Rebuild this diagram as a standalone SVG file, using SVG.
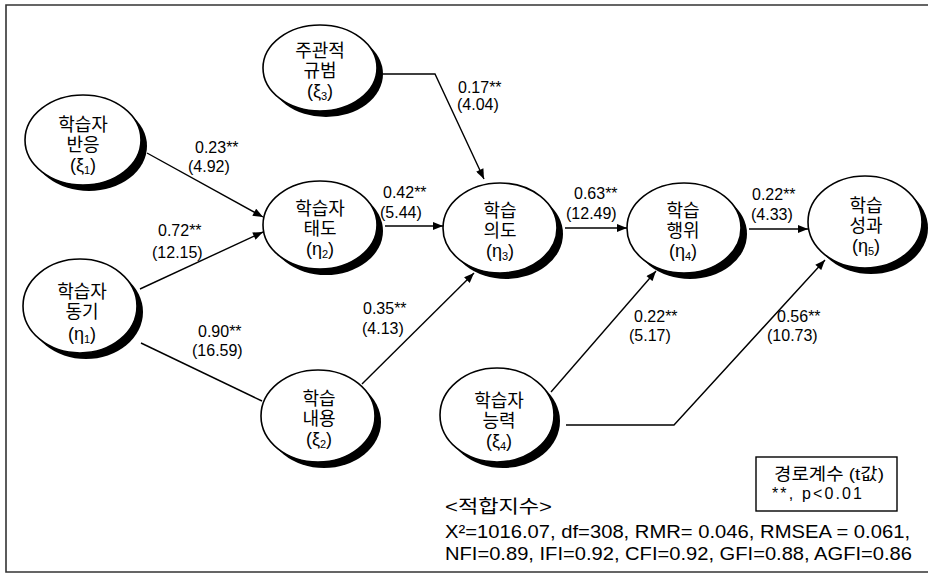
<svg xmlns="http://www.w3.org/2000/svg" width="928" height="575" viewBox="0 0 928 575">
<defs>
<style>
text{font-family:"Liberation Sans","Noto Sans CJK KR",sans-serif;fill:#000}
.nt{font-size:18px;text-anchor:middle}
.lb{font-size:16px}
.sh{fill:#000}
.nd{fill:#fff;stroke:#000;stroke-width:1.6}
.cn{fill:none;stroke:#000;stroke-width:1.4}
.ar{marker-end:url(#ah)}
.sub{font-size:11px}
</style>
<marker id="ah" viewBox="0 0 10 8" refX="10" refY="4" markerWidth="11" markerHeight="8" markerUnits="userSpaceOnUse" orient="auto">
<path d="M0,0 L10,4 L0,8 z" fill="#000"/>
</marker>
</defs>
<rect width="928" height="575" fill="#fff"/>
<g id="frame" fill="none" stroke="#333" stroke-width="1.6">
<path d="M928,5 L6,5 L6,572 L928,572"/>
</g>
<g id="connectors">
<path class="cn ar" d="M147,153 L263,217"/>
<path class="cn ar" d="M140,289 L263,232"/>
<path class="cn" d="M141,343 L262,401"/>
<path class="cn ar" d="M362,384 L474,273"/>
<path class="cn ar" d="M383,74 L435,74 L484,179"/>
<path class="cn ar" d="M385,226 L443,226"/>
<path class="cn ar" d="M565,228 L627,228"/>
<path class="cn ar" d="M749,229 L808,229"/>
<path class="cn ar" d="M551,392 L656,271"/>
<path class="cn ar" d="M566,425 L674,425 L825,260"/>
</g>
<g id="n_xi3">
<ellipse class="sh" cx="326" cy="74" rx="57" ry="43"/>
<ellipse class="nd" cx="320" cy="68" rx="57" ry="43"/>
<text class="nt" x="320" y="57">주관적</text>
<text class="nt" x="320" y="77">규범</text>
<text class="nt" x="320" y="97">(ξ<tspan class="sub" dy="3">3</tspan><tspan dy="-3">)</tspan></text>
</g>
<g id="n_xi1">
<ellipse class="sh" cx="89" cy="146" rx="58" ry="45"/>
<ellipse class="nd" cx="83" cy="140" rx="58" ry="45"/>
<text class="nt" x="83" y="131">학습자</text>
<text class="nt" x="83" y="151">반응</text>
<text class="nt" x="83" y="171">(ξ<tspan class="sub" dy="3">1</tspan><tspan dy="-3">)</tspan></text>
</g>
<g id="n_eta2">
<ellipse class="sh" cx="326" cy="231" rx="57" ry="44"/>
<ellipse class="nd" cx="320" cy="225" rx="57" ry="44"/>
<text class="nt" x="320" y="215">학습자</text>
<text class="nt" x="320" y="235">태도</text>
<text class="nt" x="320" y="255">(η<tspan class="sub" dy="3">2</tspan><tspan dy="-3">)</tspan></text>
</g>
<g id="n_eta3">
<ellipse class="sh" cx="506" cy="234" rx="57" ry="45"/>
<ellipse class="nd" cx="500" cy="228" rx="57" ry="45"/>
<text class="nt" x="500" y="217">학습</text>
<text class="nt" x="500" y="237">의도</text>
<text class="nt" x="500" y="257">(η<tspan class="sub" dy="3">3</tspan><tspan dy="-3">)</tspan></text>
</g>
<g id="n_eta4">
<ellipse class="sh" cx="690" cy="234" rx="57" ry="45"/>
<ellipse class="nd" cx="684" cy="228" rx="57" ry="45"/>
<text class="nt" x="683" y="217">학습</text>
<text class="nt" x="683" y="237">행위</text>
<text class="nt" x="683" y="257">(η<tspan class="sub" dy="3">4</tspan><tspan dy="-3">)</tspan></text>
</g>
<g id="n_eta5">
<ellipse class="sh" cx="871" cy="228" rx="57" ry="46"/>
<ellipse class="nd" cx="865" cy="222" rx="57" ry="46"/>
<text class="nt" x="866" y="212">학습</text>
<text class="nt" x="866" y="232">성과</text>
<text class="nt" x="866" y="252">(η<tspan class="sub" dy="3">5</tspan><tspan dy="-3">)</tspan></text>
</g>
<g id="n_eta1">
<ellipse class="sh" cx="86" cy="312" rx="57" ry="47"/>
<ellipse class="nd" cx="80" cy="306" rx="57" ry="47"/>
<text class="nt" x="82" y="298">학습자</text>
<text class="nt" x="82" y="318">동기</text>
<text class="nt" x="82" y="340">(η<tspan class="sub" dy="3">1</tspan><tspan dy="-3">)</tspan></text>
</g>
<g id="n_xi2">
<ellipse class="sh" cx="324" cy="422" rx="57" ry="46"/>
<ellipse class="nd" cx="318" cy="416" rx="57" ry="46"/>
<text class="nt" x="319" y="405">학습</text>
<text class="nt" x="319" y="425">내용</text>
<text class="nt" x="319" y="445">(ξ<tspan class="sub" dy="3">2</tspan><tspan dy="-3">)</tspan></text>
</g>
<g id="n_xi4">
<ellipse class="sh" cx="503" cy="421" rx="57" ry="47"/>
<ellipse class="nd" cx="497" cy="415" rx="57" ry="47"/>
<text class="nt" x="499" y="407">학습자</text>
<text class="nt" x="499" y="427">능력</text>
<text class="nt" x="499" y="447">(ξ<tspan class="sub" dy="3">4</tspan><tspan dy="-3">)</tspan></text>
</g>
<g id="labels">
<text class="lb" x="195" y="153">0.23**</text>
<text class="lb" x="188" y="172">(4.92)</text>
<text class="lb" x="158" y="236">0.72**</text>
<text class="lb" x="152" y="258">(12.15)</text>
<text class="lb" x="383" y="198">0.42**</text>
<text class="lb" x="380" y="218">(5.44)</text>
<text class="lb" x="458" y="93">0.17**</text>
<text class="lb" x="457" y="110">(4.04)</text>
<text class="lb" x="574" y="199">0.63**</text>
<text class="lb" x="566" y="219">(12.49)</text>
<text class="lb" x="752" y="200">0.22**</text>
<text class="lb" x="751" y="220">(4.33)</text>
<text class="lb" x="363" y="314">0.35**</text>
<text class="lb" x="362" y="334">(4.13)</text>
<text class="lb" x="198" y="337">0.90**</text>
<text class="lb" x="192" y="356">(16.59)</text>
<text class="lb" x="634" y="322">0.22**</text>
<text class="lb" x="629" y="341">(5.17)</text>
<text class="lb" x="777" y="322">0.56**</text>
<text class="lb" x="767" y="341">(10.73)</text>
</g>
<g id="legend">
<rect x="756" y="457" width="141" height="54" fill="#fff" stroke="#000" stroke-width="1.4"/>
<text x="774" y="480" font-size="17" textLength="110" lengthAdjust="spacingAndGlyphs">경로계수 (t값)</text>
<text x="772" y="499" font-size="16" textLength="90" lengthAdjust="spacing">**, p&lt;0.01</text>
</g>
<g id="fit">
<text x="445" y="513" font-size="18" textLength="107" lengthAdjust="spacingAndGlyphs">&lt;적합지수&gt;</text>
<text x="445" y="538" font-size="18.5" textLength="465" lengthAdjust="spacingAndGlyphs">X²=1016.07, df=308, RMR= 0.046, RMSEA = 0.061,</text>
<text x="445" y="560" font-size="18.5" textLength="467" lengthAdjust="spacingAndGlyphs">NFI=0.89, IFI=0.92, CFI=0.92, GFI=0.88, AGFI=0.86</text>
</g>
</svg>
